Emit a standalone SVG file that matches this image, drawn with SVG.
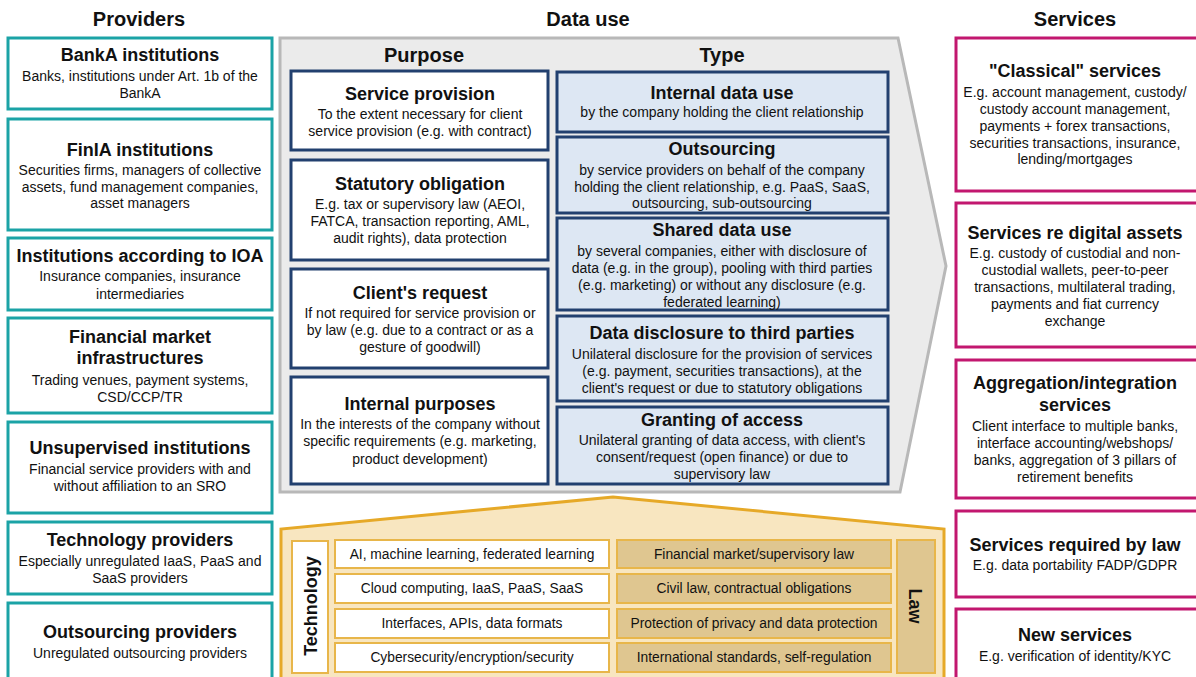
<svg xmlns="http://www.w3.org/2000/svg" width="1196" height="677" viewBox="0 0 1196 677">
<style>
text{font-family:"Liberation Sans",Arial,sans-serif;fill:#111;text-anchor:middle;dominant-baseline:central}
.h{font-size:20px;font-weight:bold}
.t{font-size:18px;font-weight:bold}
.d{font-size:14px}
.r{font-size:13.8px}
.prov{fill:#fff;stroke:#1ba3a6;stroke-width:3}
.serv{fill:#fff;stroke:#c2176f;stroke-width:3}
.purp{fill:#fff;stroke:#22406f;stroke-width:3}
.type{fill:#dde7f3;stroke:#22406f;stroke-width:3}
.tech{fill:#fff;stroke:#e8b64a;stroke-width:2}
.law{fill:#dfc690;stroke:#e8b64a;stroke-width:2}
</style>
<rect width="1196" height="677" fill="#fff"/>

<!-- headings -->
<text class="h" x="139" y="19">Providers</text>
<text class="h" x="588" y="19">Data use</text>
<text class="h" x="1075" y="19">Services</text>

<!-- Data use container -->
<g id="datause">
<polygon points="280,38 898,38 946,266 900,492 280,492" fill="#ebebeb" stroke="#b8b8b8" stroke-width="3"/>
<text class="h" x="424" y="55">Purpose</text>
<text class="h" x="722" y="55">Type</text>
</g>

<!-- Providers -->
<g id="p-banka">
<rect class="prov" x="8" y="38" width="264" height="71"/>
<text class="t" x="140" y="55">BankA institutions</text>
<text class="d" x="140" y="76">Banks, institutions under Art. 1b of the</text>
<text class="d" x="140" y="93">BankA</text>
</g>
<g id="p-finia">
<rect class="prov" x="8" y="119" width="264" height="111"/>
<text class="t" x="140" y="150">FinIA institutions</text>
<text class="d" x="140" y="170">Securities firms, managers of collective</text>
<text class="d" x="140" y="187">assets, fund management companies,</text>
<text class="d" x="140" y="203">asset managers</text>
</g>
<g id="p-ioa">
<rect class="prov" x="8" y="238" width="264" height="72"/>
<text class="t" x="140" y="256">Institutions according to IOA</text>
<text class="d" x="140" y="276">Insurance companies, insurance</text>
<text class="d" x="140" y="294">intermediaries</text>
</g>
<g id="p-fmi">
<rect class="prov" x="8" y="318" width="264" height="95"/>
<text class="t" x="140" y="337">Financial market</text>
<text class="t" x="140" y="358">infrastructures</text>
<text class="d" x="140" y="380">Trading venues, payment systems,</text>
<text class="d" x="140" y="397">CSD/CCP/TR</text>
</g>
<g id="p-unsup">
<rect class="prov" x="8" y="422" width="264" height="91"/>
<text class="t" x="140" y="448">Unsupervised institutions</text>
<text class="d" x="140" y="469">Financial service providers with and</text>
<text class="d" x="140" y="486">without affiliation to an SRO</text>
</g>
<g id="p-tech">
<rect class="prov" x="8" y="522" width="264" height="72"/>
<text class="t" x="140" y="540">Technology providers</text>
<text class="d" x="140" y="561">Especially unregulated IaaS, PaaS and</text>
<text class="d" x="140" y="578">SaaS providers</text>
</g>
<g id="p-outs">
<rect class="prov" x="8" y="603" width="264" height="90"/>
<text class="t" x="140" y="632">Outsourcing providers</text>
<text class="d" x="140" y="653">Unregulated outsourcing providers</text>
</g>

<!-- Purpose -->
<g id="u-service">
<rect class="purp" x="291" y="71" width="257" height="79"/>
<text class="t" x="420" y="94">Service provision</text>
<text class="d" x="420" y="114">To the extent necessary for client</text>
<text class="d" x="420" y="131">service provision (e.g. with contract)</text>
</g>
<g id="u-statutory">
<rect class="purp" x="291" y="160" width="257" height="100"/>
<text class="t" x="420" y="184">Statutory obligation</text>
<text class="d" x="420" y="204">E.g. tax or supervisory law (AEOI,</text>
<text class="d" x="420" y="221">FATCA, transaction reporting, AML,</text>
<text class="d" x="420" y="238">audit rights), data protection</text>
</g>
<g id="u-client">
<rect class="purp" x="291" y="269" width="257" height="99"/>
<text class="t" x="420" y="293">Client's request</text>
<text class="d" x="420" y="313">If not required for service provision or</text>
<text class="d" x="420" y="330">by law (e.g. due to a contract or as a</text>
<text class="d" x="420" y="347">gesture of goodwill)</text>
</g>
<g id="u-internal">
<rect class="purp" x="291" y="377" width="257" height="107"/>
<text class="t" x="420" y="404">Internal purposes</text>
<text class="d" x="420" y="424">In the interests of the company without</text>
<text class="d" x="420" y="441">specific requirements (e.g. marketing,</text>
<text class="d" x="420" y="459">product development)</text>
</g>

<!-- Type -->
<g id="t-internal">
<rect class="type" x="557" y="72" width="331" height="60"/>
<text class="t" x="722" y="93">Internal data use</text>
<text class="d" x="722" y="112">by the company holding the client relationship</text>
</g>
<g id="t-outsourcing">
<rect class="type" x="557" y="137" width="331" height="76"/>
<text class="t" x="722" y="149">Outsourcing</text>
<text class="d" x="722" y="170">by service providers on behalf of the company</text>
<text class="d" x="722" y="187">holding the client relationship, e.g. PaaS, SaaS,</text>
<text class="d" x="722" y="203">outsourcing, sub-outsourcing</text>
</g>
<g id="t-shared">
<rect class="type" x="557" y="218" width="331" height="92"/>
<text class="t" x="722" y="230">Shared data use</text>
<text class="d" x="722" y="251">by several companies, either with disclosure of</text>
<text class="d" x="722" y="268">data (e.g. in the group), pooling with third parties</text>
<text class="d" x="722" y="285">(e.g. marketing) or without any disclosure (e.g.</text>
<text class="d" x="722" y="302">federated learning)</text>
</g>
<g id="t-disclosure">
<rect class="type" x="557" y="316" width="331" height="85"/>
<text class="t" x="722" y="333">Data disclosure to third parties</text>
<text class="d" x="722" y="354">Unilateral disclosure for the provision of services</text>
<text class="d" x="722" y="371">(e.g. payment, securities transactions), at the</text>
<text class="d" x="722" y="388">client's request or due to statutory obligations</text>
</g>
<g id="t-access">
<rect class="type" x="557" y="407" width="331" height="77"/>
<text class="t" x="722" y="420">Granting of access</text>
<text class="d" x="722" y="440">Unilateral granting of data access, with client's</text>
<text class="d" x="722" y="457">consent/request (open finance) or due to</text>
<text class="d" x="722" y="474">supervisory law</text>
</g>

<!-- House: technology and law -->
<g id="house">
<polygon points="281,680 281,529 613,497 944,529 944,680" fill="#f8e6c0" stroke="#e6a928" stroke-width="3"/>
</g>
<g id="technology">
<rect class="tech" x="292" y="541" width="36" height="132"/>
<text class="t" transform="translate(311,606) rotate(-90)">Technology</text>
</g>
<g id="tech-rows">
<rect class="tech" x="335" y="540" width="274" height="28"/>
<text class="r" x="472" y="554">AI, machine learning, federated learning</text>
<rect class="tech" x="335" y="574" width="274" height="29"/>
<text class="r" x="472" y="588">Cloud computing, IaaS, PaaS, SaaS</text>
<rect class="tech" x="335" y="609" width="274" height="29"/>
<text class="r" x="472" y="623">Interfaces, APIs, data formats</text>
<rect class="tech" x="335" y="643" width="274" height="29"/>
<text class="r" x="472" y="657">Cybersecurity/encryption/security</text>
</g>
<g id="law-rows">
<rect class="law" x="617" y="540" width="274" height="28"/>
<text class="r" x="754" y="554">Financial market/supervisory law</text>
<rect class="law" x="617" y="574" width="274" height="29"/>
<text class="r" x="754" y="588">Civil law, contractual obligations</text>
<rect class="law" x="617" y="609" width="274" height="29"/>
<text class="r" x="754" y="623">Protection of privacy and data protection</text>
<rect class="law" x="617" y="643" width="274" height="29"/>
<text class="r" x="754" y="657">International standards, self-regulation</text>
</g>
<g id="law">
<rect class="law" x="897" y="540" width="38" height="133"/>
<text class="t" transform="translate(915,606) rotate(90)">Law</text>
</g>

<!-- Services -->
<g id="s-classical">
<rect class="serv" x="956" y="38" width="250" height="153"/>
<text class="t" x="1075" y="71">"Classical" services</text>
<text class="d" x="1075" y="92">E.g. account management, custody/</text>
<text class="d" x="1075" y="109">custody account management,</text>
<text class="d" x="1075" y="126">payments + forex transactions,</text>
<text class="d" x="1075" y="143">securities transactions, insurance,</text>
<text class="d" x="1075" y="159">lending/mortgages</text>
</g>
<g id="s-digital">
<rect class="serv" x="956" y="203" width="250" height="144"/>
<text class="t" x="1075" y="233">Services re digital assets</text>
<text class="d" x="1075" y="253">E.g. custody of custodial and non-</text>
<text class="d" x="1075" y="270">custodial wallets, peer-to-peer</text>
<text class="d" x="1075" y="287">transactions, multilateral trading,</text>
<text class="d" x="1075" y="304">payments and fiat currency</text>
<text class="d" x="1075" y="321">exchange</text>
</g>
<g id="s-aggregation">
<rect class="serv" x="956" y="360" width="250" height="138"/>
<text class="t" x="1075" y="383">Aggregation/integration</text>
<text class="t" x="1075" y="405">services</text>
<text class="d" x="1075" y="426">Client interface to multiple banks,</text>
<text class="d" x="1075" y="443">interface accounting/webshops/</text>
<text class="d" x="1075" y="460">banks, aggregation of 3 pillars of</text>
<text class="d" x="1075" y="477">retirement benefits</text>
</g>
<g id="s-law">
<rect class="serv" x="956" y="511" width="250" height="86"/>
<text class="t" x="1075" y="545">Services required by law</text>
<text class="d" x="1075" y="565">E.g. data portability FADP/GDPR</text>
</g>
<g id="s-new">
<rect class="serv" x="956" y="609" width="250" height="90"/>
<text class="t" x="1075" y="635">New services</text>
<text class="d" x="1075" y="656">E.g. verification of identity/KYC</text>
</g>
<g id="connectors"></g>
</svg>
